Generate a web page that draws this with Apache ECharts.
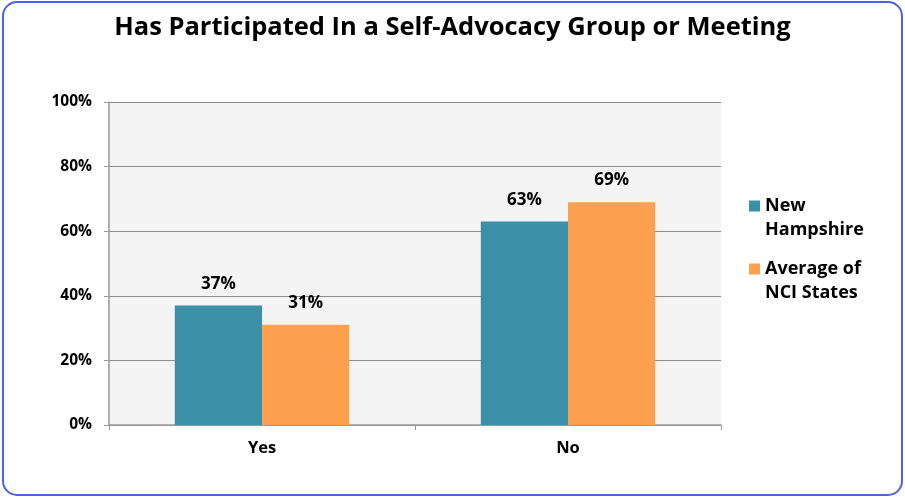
<!DOCTYPE html>
<html>
<head>
<meta charset="utf-8">
<script src="https://cdn.jsdelivr.net/npm/echarts@6/dist/echarts.min.js"></script>
<style>
html,body{margin:0;padding:0;background:#fff;}
#chart{width:905px;height:499px;}
</style>
</head>
<body>
<div id="chart"></div>
<script>
var titleText = 'Has Participated In a Self-Advocacy Group or Meeting';
var categories = ['Yes', 'No'];
var seriesNames = ['New Hampshire', 'Average of NCI States'];
var legendLines = [['New', 'Hampshire'], ['Average of', 'NCI States']];
var newHampshire = [37, 63];
var nciAverage = [31, 69];
var yTicks = [0, 20, 40, 60, 80, 100];

var FONT = 'Open Sans';
var chart = echarts.init(document.getElementById('chart'));
chart.setOption({
  backgroundColor: '#fff',
  animation: false,
  title: {
    text: titleText,
    left: 'center',
    top: 10,
    textStyle: {fontFamily: FONT, fontWeight: 'bold', fontSize: 25.5, color: '#000'}
  },
  graphic: [{
    type: 'rect',
    shape: {x: 3, y: 2, width: 899, height: 493, r: 14},
    style: {fill: 'none', stroke: '#4a63e6', lineWidth: 2},
    silent: true
  }],
  legend: {
    orient: 'vertical',
    left: 744,
    top: 168,
    itemWidth: 11,
    itemHeight: 11,
    itemGap: -3,
    icon: 'rect',
    data: seriesNames,
    formatter: function (n) {
      var l = legendLines[seriesNames.indexOf(n)];
      return '{s| }\n{t|' + l[0] + '}\n{t|' + l[1] + '}';
    },
    textStyle: {
      fontFamily: FONT, fontWeight: 'bold', fontSize: 18, color: '#000',
      rich: {
        s: {fontSize: 18, lineHeight: 24},
        t: {fontFamily: FONT, fontWeight: 'bold', fontSize: 18, color: '#000', lineHeight: 24}
      }
    }
  },
  grid: {
    left: 109, right: 184, top: 102, bottom: 74,
    show: true, backgroundColor: '#f4f4f4', borderWidth: 0
  },
  xAxis: {
    type: 'category',
    data: categories,
    axisLine: {lineStyle: {color: '#9a9a9a', width: 1.5}},
    axisTick: {show: true, length: 5, lineStyle: {color: '#9a9a9a'}},
    axisLabel: {fontFamily: FONT, fontWeight: 'bold', fontSize: 16.5, color: '#000', margin: 15}
  },
  yAxis: {
    type: 'value',
    min: 0, max: 100, interval: 20,
    axisLine: {show: true, lineStyle: {color: '#9a9a9a', width: 1.5}},
    axisTick: {show: true, length: 5, lineStyle: {color: '#9a9a9a'}},
    splitLine: {lineStyle: {color: '#8c8c8c', width: 1}},
    axisLabel: {fontFamily: FONT, fontWeight: 'bold', fontSize: 15.5, color: '#000', margin: 17,
      formatter: function (v) { return yTicks.indexOf(v) >= 0 ? v + '%' : ''; }}
  },
  series: [{
    name: seriesNames[0], type: 'bar', data: newHampshire,
    barGap: '0%', barCategoryGap: '43%',
    itemStyle: {color: '#3b8fa7'},
    label: {show: true, position: 'top', distance: 13, formatter: '{c}%',
      fontFamily: FONT, fontWeight: 'bold', fontSize: 17, color: '#000'}
  }, {
    name: seriesNames[1], type: 'bar', data: nciAverage,
    itemStyle: {color: '#fda050'},
    label: {show: true, position: 'top', distance: 13, formatter: '{c}%',
      fontFamily: FONT, fontWeight: 'bold', fontSize: 17, color: '#000'}
  }]
});
</script>
</body>
</html>
